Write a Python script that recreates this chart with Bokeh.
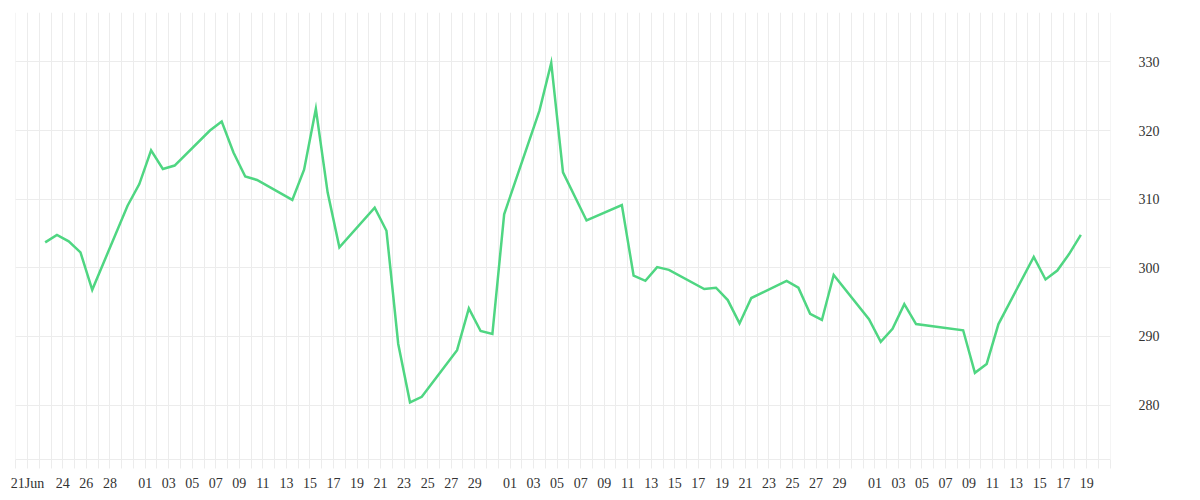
import pandas as pd
from bokeh.plotting import figure
from bokeh.models import FixedTicker, Range1d, ColumnDataSource
from bokeh.embed import file_html
from bokeh.resources import INLINE

# ---- data (daily closes, 2020) ----
dates = [
    "2020-06-22", "2020-06-23", "2020-06-24", "2020-06-25", "2020-06-26",
    "2020-06-29", "2020-06-30", "2020-07-01", "2020-07-02", "2020-07-03",
    "2020-07-06", "2020-07-07", "2020-07-08", "2020-07-09", "2020-07-10",
    "2020-07-13", "2020-07-14", "2020-07-15", "2020-07-16", "2020-07-17",
    "2020-07-20", "2020-07-21", "2020-07-22", "2020-07-23", "2020-07-24",
    "2020-07-27", "2020-07-28", "2020-07-29", "2020-07-30", "2020-07-31",
    "2020-08-03", "2020-08-04", "2020-08-05", "2020-08-07",
    "2020-08-10", "2020-08-11", "2020-08-12", "2020-08-13", "2020-08-14",
    "2020-08-17", "2020-08-18", "2020-08-19", "2020-08-20", "2020-08-21",
    "2020-08-24", "2020-08-25", "2020-08-26", "2020-08-27", "2020-08-28",
    "2020-08-31", "2020-09-01", "2020-09-02", "2020-09-03", "2020-09-04",
    "2020-09-08", "2020-09-09", "2020-09-10", "2020-09-11",
    "2020-09-14", "2020-09-15", "2020-09-16", "2020-09-17", "2020-09-18",
]
values = [
    303.7, 304.8, 303.85, 302.25, 296.8,
    309.05, 312.2, 317.1, 314.4, 314.9,
    320.0, 321.3, 316.8, 313.3, 312.8,
    309.9, 314.3, 323.15, 311.0, 303.0,
    308.75, 305.4, 288.9, 280.4, 281.2,
    288.0, 294.1, 290.8, 290.35, 307.8,
    322.9, 329.85, 313.9, 306.9,
    309.15, 298.85, 298.1, 300.1, 299.7,
    296.9, 297.1, 295.3, 291.9, 295.6,
    298.1, 297.1, 293.3, 292.4, 298.95,
    292.5, 289.2, 291.1, 294.7, 291.8,
    290.9, 284.7, 286.0, 291.8,
    301.6, 298.3, 299.6, 302.0, 304.8,
]

# x tick labels (one grid line per day, labels on these days)
label_dates = (
    ["2020-06-21", "2020-06-24", "2020-06-26", "2020-06-28"]
    + ["2020-07-%02d" % d for d in range(1, 30, 2)]
    + ["2020-08-%02d" % d for d in range(1, 30, 2)]
    + ["2020-09-%02d" % d for d in range(1, 20, 2)]
)
label_texts = (
    ["21Jun", "24", "26", "28"]
    + ["%02d" % d for d in range(1, 30, 2)]
    + ["%02d" % d for d in range(1, 30, 2)]
    + ["%02d" % d for d in range(1, 20, 2)]
)
y_ticks = [280, 290, 300, 310, 320, 330]

# ---- build ----
def ms(ts):
    return int(pd.Timestamp(ts).value // 10**6)

x = [pd.Timestamp(d) + pd.Timedelta(hours=12) for d in dates]
src = ColumnDataSource(dict(x=x, y=values))

day_ticks = [ms(t) for t in pd.date_range("2020-06-20", "2020-09-21", freq="D")]
label_map = {ms(d): t for d, t in zip(label_dates, label_texts)}
overrides = {t: label_map.get(t, "") for t in day_ticks}

p = figure(
    x_axis_type="datetime",
    y_axis_location="right",
    frame_width=1095,
    frame_height=447,
    min_border_left=15,
    min_border_top=12,
    min_border_right=10,
    min_border_bottom=2,
    x_range=Range1d(ms("2020-06-20") - 30 * 60 * 1000, ms("2020-09-21") + 30 * 60 * 1000),
    y_range=Range1d(272.07, 337.2),
    output_backend="svg",
    toolbar_location=None,
)
p.outline_line_color = None
p.background_fill_color = "white"
p.border_fill_color = "white"

p.line("x", "y", source=src, line_color="#4fd682", line_width=2.5, line_join="miter")

grid_col = "#ececec"
xa = p.xaxis[0]
xa.ticker = FixedTicker(ticks=day_ticks)
xa.major_label_overrides = overrides
xa.axis_line_color = grid_col
xa.major_tick_line_color = grid_col
xa.major_tick_out = 9
xa.major_tick_in = 0
xa.minor_tick_line_color = None
xa.major_label_standoff = 7
xa.major_label_text_font = "Liberation Serif"
xa.major_label_text_font_size = "14px"
xa.major_label_text_color = "#333333"

ya = p.yaxis[0]
ya.ticker = FixedTicker(ticks=y_ticks)
ya.axis_line_color = None
ya.major_tick_line_color = None
ya.minor_tick_line_color = None
ya.major_tick_out = 0
ya.major_label_standoff = 28
ya.major_label_text_font = "Liberation Serif"
ya.major_label_text_font_size = "14px"
ya.major_label_text_color = "#333333"

p.xgrid.grid_line_color = grid_col
p.ygrid.grid_line_color = grid_col

open("out.html", "w").write(file_html(p, INLINE))
